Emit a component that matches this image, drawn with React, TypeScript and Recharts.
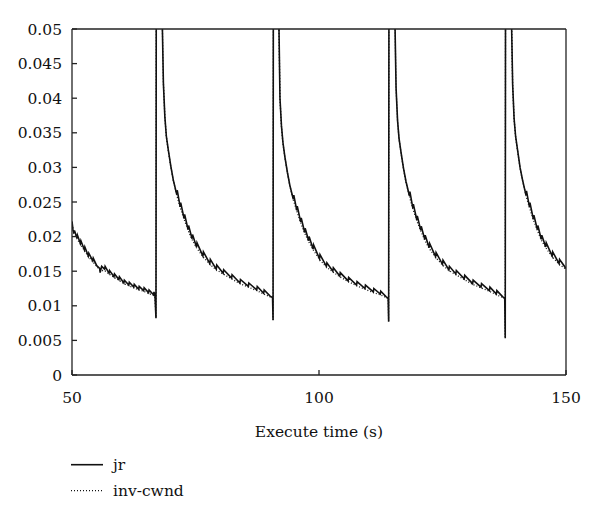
import { LineChart, Line, XAxis, YAxis } from 'recharts';

// jr: measured jitter ratio, sampled with its small sawtooth spikes
const jrTime = [
  50.0, 50.2, 50.4, 50.5, 51.0, 51.1, 51.7, 51.8, 52.5, 52.6, 53.3, 53.4, 54.2, 54.3, 55.0, 55.6, 55.7, 56.0,
  56.6, 56.7, 57.5, 57.6, 58.5, 58.6, 59.5, 59.6, 60.5, 60.6, 61.5, 61.6, 62.5, 62.6, 63.5, 63.6, 64.5, 64.6,
  65.5, 65.6, 66.5, 66.6, 66.8, 67.0, 67.1,
  68.3, 68.5, 68.8, 69.1, 69.5, 70.0, 70.5, 71.2, 71.3, 71.9, 72.0, 72.7, 72.8, 73.5, 73.6, 74.3, 74.4, 75.2,
  75.3, 76.5, 76.6, 77.9, 78.0, 79.2, 79.3, 80.6, 80.7, 82.3, 82.4, 84.0, 84.1, 85.7, 85.8, 87.4, 87.5, 88.8,
  88.9, 90.1, 90.6, 90.7, 90.8,
  91.9, 92.1, 92.4, 92.7, 93.1, 93.6, 94.1, 94.8, 94.9, 95.5, 95.6, 96.3, 96.4, 97.1, 97.2, 97.9, 98.0, 98.8,
  98.9, 100.1, 100.2, 101.5, 101.6, 102.8, 102.9, 104.2, 104.3, 105.9, 106.0, 107.6, 107.7, 109.3, 109.4,
  111.0, 111.1, 112.4, 112.5, 113.6, 114.0, 114.1, 114.2,
  115.4, 115.6, 115.9, 116.2, 116.6, 117.1, 117.6, 118.3, 118.4, 119.0, 119.1, 119.8, 119.9, 120.6, 120.7,
  121.4, 121.5, 122.3, 122.4, 123.6, 123.7, 125.0, 125.1, 126.3, 126.4, 127.7, 127.8, 129.4, 129.5, 131.1,
  131.2, 132.8, 132.9, 134.5, 134.6, 135.9, 136.0, 137.2, 137.6, 137.7, 137.8,
  139.0, 139.2, 139.5, 139.8, 140.2, 140.7, 141.2, 141.9, 142.0, 142.6, 142.7, 143.4, 143.5, 144.2, 144.3,
  145.0, 145.1, 145.9, 146.0, 147.2, 147.3, 148.6, 148.7, 150.0,
];
const jrValue = [
  0.0222, 0.021, 0.0205, 0.0209, 0.0198, 0.0202, 0.019, 0.0194, 0.0181, 0.0185, 0.0172, 0.0176, 0.0165, 0.0169,
  0.0158, 0.0154, 0.0148, 0.0157, 0.0153, 0.0157, 0.0147, 0.0151, 0.0142, 0.0146, 0.0138, 0.0142, 0.0133, 0.0137,
  0.013, 0.0134, 0.0127, 0.0131, 0.0124, 0.0128, 0.0122, 0.0126, 0.0119, 0.0123, 0.0116, 0.012, 0.0114, 0.0082,
  0.09,
  0.05, 0.0422, 0.0373, 0.0345, 0.0325, 0.0302, 0.0282, 0.0261, 0.0267, 0.0243, 0.0249, 0.0226, 0.0232, 0.021,
  0.0216, 0.0197, 0.0203, 0.0185, 0.0191, 0.0172, 0.0178, 0.0161, 0.0167, 0.0153, 0.0159, 0.0147, 0.0152, 0.014,
  0.0145, 0.0133, 0.0138, 0.0128, 0.0133, 0.0123, 0.0128, 0.0118, 0.0123, 0.0114, 0.0112, 0.0079, 0.09,
  0.05, 0.04, 0.036, 0.0336, 0.0315, 0.0293, 0.0274, 0.0254, 0.026, 0.0238, 0.0244, 0.0221, 0.0227, 0.0206,
  0.0212, 0.0194, 0.02, 0.0182, 0.0188, 0.0168, 0.0174, 0.0157, 0.0162, 0.015, 0.0155, 0.0143, 0.0148, 0.0136,
  0.0141, 0.013, 0.0135, 0.0125, 0.013, 0.012, 0.0125, 0.0117, 0.0121, 0.0113, 0.0111, 0.0077, 0.09,
  0.05, 0.0415, 0.0368, 0.0342, 0.0322, 0.0299, 0.028, 0.0259, 0.0265, 0.0241, 0.0247, 0.0224, 0.023, 0.0209,
  0.0215, 0.0196, 0.0202, 0.0184, 0.019, 0.0171, 0.0177, 0.016, 0.0166, 0.0152, 0.0157, 0.0146, 0.0151, 0.0139,
  0.0144, 0.0132, 0.0137, 0.0127, 0.0132, 0.0122, 0.0127, 0.0117, 0.0122, 0.0113, 0.0111, 0.0053, 0.09,
  0.05, 0.042, 0.037, 0.0345, 0.0325, 0.03, 0.0282, 0.026, 0.0266, 0.0243, 0.0249, 0.0225, 0.0231, 0.021, 0.0216,
  0.0196, 0.0202, 0.0185, 0.0191, 0.0172, 0.0178, 0.0161, 0.0167, 0.0154,
];

// inv-cwnd: inverse of the congestion window, smooth
const cwndTime = [
  50.0, 50.4, 51.0, 51.7, 52.5, 53.3, 54.2, 55.0, 55.7, 56.6, 57.5, 58.5, 59.5, 60.5, 61.5, 62.5, 63.5, 64.5,
  65.5, 66.5, 66.8, 67.0, 67.1,
  68.3, 68.5, 68.8, 69.1, 69.5, 70.0, 70.5, 71.2, 71.9, 72.7, 73.5, 74.3, 75.2, 76.5, 77.9, 79.2, 80.6, 82.3,
  84.0, 85.7, 87.4, 88.8, 90.1, 90.6, 90.7, 90.8,
  91.9, 92.1, 92.4, 92.7, 93.1, 93.6, 94.1, 94.8, 95.5, 96.3, 97.1, 97.9, 98.8, 100.1, 101.5, 102.8, 104.2,
  105.9, 107.6, 109.3, 111.0, 112.4, 113.6, 114.0, 114.1, 114.2,
  115.4, 115.6, 115.9, 116.2, 116.6, 117.1, 117.6, 118.3, 119.0, 119.8, 120.6, 121.4, 122.3, 123.6, 125.0,
  126.3, 127.7, 129.4, 131.1, 132.8, 134.5, 135.9, 137.2, 137.6, 137.7, 137.8,
  139.0, 139.2, 139.5, 139.8, 140.2, 140.7, 141.2, 141.9, 142.6, 143.4, 144.2, 145.0, 145.9, 147.2, 148.6, 150.0,
];
const cwndValue = [
  0.0218, 0.0204, 0.0197, 0.0189, 0.018, 0.0171, 0.0164, 0.0157, 0.0151, 0.0151, 0.0146, 0.0141, 0.0137, 0.0132,
  0.0129, 0.0126, 0.0123, 0.0121, 0.0118, 0.0115, 0.0113, 0.0083, 0.09,
  0.05, 0.0421, 0.0372, 0.0344, 0.0324, 0.0301, 0.0281, 0.026, 0.0242, 0.0225, 0.0209, 0.0196, 0.0184, 0.0171,
  0.016, 0.0152, 0.0146, 0.0139, 0.0132, 0.0127, 0.0122, 0.0117, 0.0113, 0.0111, 0.008, 0.09,
  0.05, 0.0399, 0.0359, 0.0335, 0.0314, 0.0292, 0.0273, 0.0253, 0.0237, 0.022, 0.0205, 0.0193, 0.0181, 0.0167,
  0.0156, 0.0149, 0.0142, 0.0135, 0.0129, 0.0124, 0.0119, 0.0116, 0.0112, 0.011, 0.0078, 0.09,
  0.05, 0.0414, 0.0367, 0.0341, 0.0321, 0.0298, 0.0279, 0.0258, 0.024, 0.0223, 0.0208, 0.0195, 0.0183, 0.017,
  0.0159, 0.0151, 0.0145, 0.0138, 0.0131, 0.0126, 0.0121, 0.0116, 0.0112, 0.011, 0.0055, 0.09,
  0.05, 0.0419, 0.0369, 0.0344, 0.0324, 0.0299, 0.0281, 0.0259, 0.0242, 0.0224, 0.0209, 0.0195, 0.0184, 0.0171,
  0.016, 0.0153,
];

const xTicks = [50, 100, 150];
const yTicks = [0, 0.005, 0.01, 0.015, 0.02, 0.025, 0.03, 0.035, 0.04, 0.045, 0.05];

const jrData = jrTime.map((t, i) => ({ t, v: jrValue[i] }));
const cwndData = cwndTime.map((t, i) => ({ t, v: cwndValue[i] }));

const FONT = 'DejaVu Serif';
const FS = 15.5;
const tickStyle = { fill: '#111', fontSize: FS, fontFamily: FONT, style: { fontFamily: FONT } };
const frame = { stroke: '#222', strokeWidth: 1.3 };

export default function App() {
  return (
    <div style={{ position: 'absolute', left: 0, top: 0, width: 600, height: 521, background: '#fff', fontFamily: FONT }}>
      <LineChart width={600} height={521} margin={{ top: 28, right: 33, left: 0, bottom: 82 }}>
        <XAxis
          type="number"
          dataKey="t"
          domain={[50, 150]}
          ticks={xTicks}
          allowDataOverflow
          height={64}
          tickSize={-5}
          tickMargin={22}
          axisLine={frame}
          tickLine={frame}
          tick={tickStyle}
          label={{ value: 'Execute time (s)', position: 'insideBottom', offset: 2, fill: '#111', fontSize: FS, fontFamily: FONT, style: { fontFamily: FONT } }}
        />
        <XAxis
          xAxisId="top"
          orientation="top"
          type="number"
          dataKey="t"
          domain={[50, 150]}
          ticks={xTicks}
          height={1}
          tickSize={-5}
          tick={false}
          axisLine={frame}
          tickLine={frame}
        />
        <YAxis
          type="number"
          domain={[0, 0.05]}
          ticks={yTicks}
          allowDataOverflow
          width={72}
          tickSize={-5}
          tickMargin={15}
          axisLine={frame}
          tickLine={frame}
          tick={tickStyle}
        />
        <YAxis
          yAxisId="right"
          orientation="right"
          type="number"
          domain={[0, 0.05]}
          ticks={yTicks}
          width={1}
          tickSize={-5}
          tick={false}
          axisLine={frame}
          tickLine={frame}
        />
        <Line
          data={cwndData}
          dataKey="v"
          type="linear"
          stroke="#111"
          strokeWidth={1.3}
          strokeDasharray="1 2"
          dot={false}
          isAnimationActive={false}
        />
        <Line
          data={jrData}
          dataKey="v"
          type="linear"
          stroke="#111"
          strokeWidth={1.6}
          dot={false}
          isAnimationActive={false}
        />
      </LineChart>
      <svg width={300} height={80} style={{ position: 'absolute', left: 0, top: 440 }}>
        <line x1={71} x2={103} y1={24.7} y2={24.7} stroke="#111" strokeWidth={1.6} />
        <text x={113} y={30} fontSize={FS} style={{ fontFamily: FONT }} fill="#111">jr</text>
        <line x1={71} x2={103} y1={50.7} y2={50.7} stroke="#111" strokeWidth={1.3} strokeDasharray="1 2" />
        <text x={113} y={56} fontSize={FS} style={{ fontFamily: FONT }} fill="#111">inv-cwnd</text>
      </svg>
    </div>
  );
}
